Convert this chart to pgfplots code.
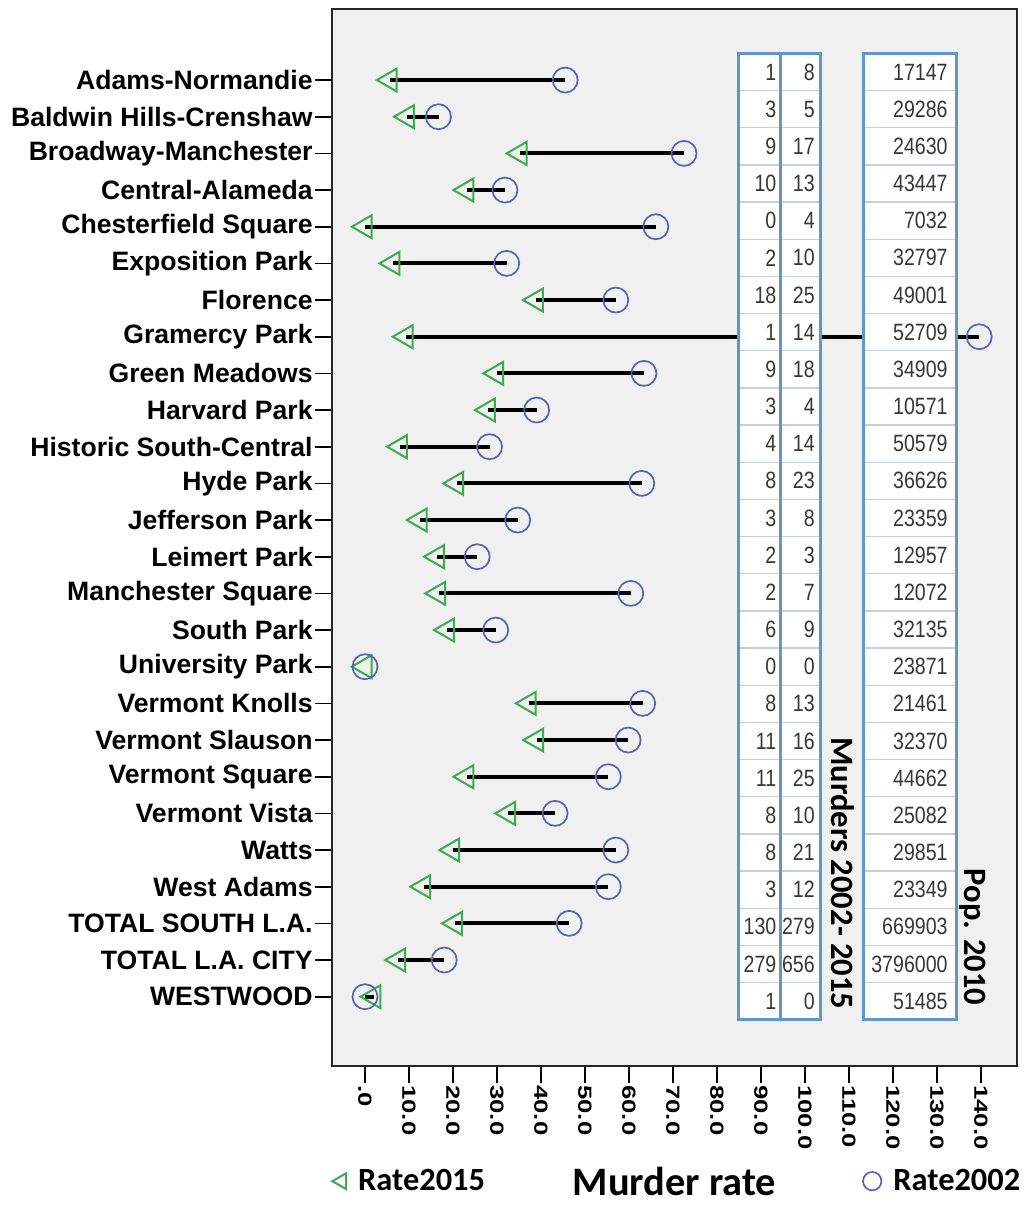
\documentclass[border=0pt]{standalone}
\usepackage{fontspec}
\setmainfont{Liberation Sans}
\newfontfamily\tickfont{Liberation Sans}[FakeStretch=1.35]
\newfontfamily\cellfont{Liberation Sans}[FakeStretch=0.83]
\newfontfamily\califont{Carlito}
\usepackage{pgfplots}
\pgfplotsset{compat=1.18}
\usepackage{pgfplotstable}
\usetikzlibrary{calc}

\definecolor{tri}{RGB}{60,170,80}
\definecolor{circ}{RGB}{85,100,175}
\definecolor{boxblue}{RGB}{95,150,205}
\definecolor{rowline}{RGB}{195,208,224}
\definecolor{cellgray}{RGB}{55,55,55}

% row, murders (first col, second col), population 2010, rate 2015, rate 2002
\pgfplotstableread{
row a   b   pop     r15  r02
1   1   8   17147   5.7  45.5
2   3   5   29286   9.6  16.7
3   9   17  24630   35.2 72.5
4   10  13  43447   23.1 31.8
5   0   4   7032    0.0  66.1
6   2   10  32797   6.3  32.2
7   18  25  49001   38.9 57.0
8   1   14  52709   9.3  139.6
9   9   18  34909   29.9 63.4
10  3   4   10571   28.0 39.0
11  4   14  50579   8.0  28.3
12  8   23  36626   20.8 62.9
13  3   8   23359   12.5 34.7
14  2   3   12957   16.4 25.5
15  2   7   12072   16.7 60.4
16  6   9   32135   18.7 29.7
17  0   0   23871   0.0  0.0
18  8   13  21461   37.3 63.1
19  11  16  32370   39.0 59.8
20  11  25  44662   23.1 55.3
21  8   10  25082   32.6 43.2
22  8   21  29851   19.9 57.0
23  3   12  23349   13.3 55.3
24  130 279 669903  20.5 46.4
25  279 656 3796000 7.6  18.0
26  1   0   51485   2.0  0.0
}\murders

\begin{document}
\begin{tikzpicture}
\begin{axis}[
    width=342.5pt, height=528.3pt, scale only axis,
    xmin=-7.5, xmax=148.2,
    ymin=-0.93, ymax=27.89, y dir=reverse,
    axis background/.style={fill=black!6},
    axis line style={black!85, line width=1.1pt},
    tick align=outside, tick pos=left,
    major tick length=8.5pt,
    tick style={black, line width=0.8pt},
    xtick={0,10,20,30,40,50,60,70,80,90,100,110,120,130,140},
    xticklabels={.0,10.0,20.0,30.0,40.0,50.0,60.0,70.0,80.0,90.0,100.0,110.0,120.0,130.0,140.0},
    xticklabel style={rotate=-90, anchor=west, inner sep=1pt,
        font=\tickfont\bfseries\fontsize{9.5}{10}\selectfont},
    ytick={1,...,26},
    yticklabels={Adams-Normandie,Baldwin Hills-Crenshaw,Broadway-Manchester,
        Central-Alameda,Chesterfield Square,Exposition Park,Florence,
        Gramercy Park,Green Meadows,Harvard Park,Historic South-Central,
        Hyde Park,Jefferson Park,Leimert Park,Manchester Square,South Park,
        University Park,Vermont Knolls,Vermont Slauson,Vermont Square,
        Vermont Vista,Watts,West Adams,TOTAL SOUTH L.A.,TOTAL L.A. CITY,WESTWOOD},
    yticklabel style={inner xsep=1pt, font=\bfseries\fontsize{13.3}{15}\selectfont},
    xlabel={Murder rate},
    xlabel style={at={(axis description cs:0.5,-0.109)}, anchor=center, inner sep=0pt,
        font=\califont\bfseries\fontsize{20.2}{22}\selectfont},
    legend style={at={(axis description cs:0,-0.109)}, anchor=west,
        draw=none, fill=none, inner sep=0pt,
        font=\califont\bfseries\fontsize{16.2}{18}\selectfont,
        /tikz/every odd column/.append style={column sep=4pt},
        /tikz/every even column/.append style={column sep=187pt}},
    legend columns=2,
    legend image post style={mark size=4.6pt},
]

% connecting lines 2015 -> 2002
\addplot[black, line width=2pt, unbounded coords=jump, forget plot] coordinates {
(5.7,1)(45.5,1) (nan,nan) (9.6,2)(16.7,2) (nan,nan) (35.2,3)(72.5,3) (nan,nan)
(23.1,4)(31.8,4) (nan,nan) (0.0,5)(66.1,5) (nan,nan) (6.3,6)(32.2,6) (nan,nan)
(38.9,7)(57.0,7) (nan,nan) (9.3,8)(139.6,8) (nan,nan) (29.9,9)(63.4,9) (nan,nan)
(28.0,10)(39.0,10) (nan,nan) (8.0,11)(28.3,11) (nan,nan) (20.8,12)(62.9,12) (nan,nan)
(12.5,13)(34.7,13) (nan,nan) (16.4,14)(25.5,14) (nan,nan) (16.7,15)(60.4,15) (nan,nan)
(18.7,16)(29.7,16) (nan,nan) (37.3,18)(63.1,18) (nan,nan) (39.0,19)(59.8,19) (nan,nan)
(23.1,20)(55.3,20) (nan,nan) (32.6,21)(43.2,21) (nan,nan) (19.9,22)(57.0,22) (nan,nan)
(13.3,23)(55.3,23) (nan,nan) (20.5,24)(46.4,24) (nan,nan) (7.6,25)(18.0,25) (nan,nan)
(2.0,26)(0.0,26)
};

% table boxes
\fill[white] (axis cs:84.9,0.272) rectangle (axis cs:103.6,26.63);
\fill[white] (axis cs:113.4,0.272) rectangle (axis cs:134.5,26.63);
\pgfplotsinvokeforeach{1,...,25}{
  \draw[rowline, line width=0.7pt] (axis cs:84.9,{0.272+1.0137*#1}) -- (axis cs:103.6,{0.272+1.0137*#1});
  \draw[rowline, line width=0.7pt] (axis cs:113.4,{0.272+1.0137*#1}) -- (axis cs:134.5,{0.272+1.0137*#1});
}
\draw[boxblue, line width=1.5pt] (axis cs:84.9,0.272) rectangle (axis cs:94.5,26.63);
\draw[boxblue, line width=1.5pt] (axis cs:94.5,0.272) rectangle (axis cs:103.6,26.63);
\draw[boxblue, line width=1.5pt] (axis cs:113.4,0.272) rectangle (axis cs:134.5,26.63);

\addplot[draw=none, mark=none, forget plot, nodes near coords, point meta=explicit symbolic,
    nodes near coords style={anchor=east, inner sep=0pt, text=cellgray,
        font=\cellfont\fontsize{11.8}{13}\selectfont}]
    table[x expr=93.57, y expr=-0.2349+1.0137*\thisrow{row}, meta=a] {\murders};
\addplot[draw=none, mark=none, forget plot, nodes near coords, point meta=explicit symbolic,
    nodes near coords style={anchor=east, inner sep=0pt, text=cellgray,
        font=\cellfont\fontsize{11.8}{13}\selectfont}]
    table[x expr=102.3, y expr=-0.2349+1.0137*\thisrow{row}, meta=b] {\murders};
\addplot[draw=none, mark=none, forget plot, nodes near coords, point meta=explicit symbolic,
    nodes near coords style={anchor=east, inner sep=0pt, text=cellgray,
        font=\cellfont\fontsize{11.8}{13}\selectfont}]
    table[x expr=132.5, y expr=-0.2349+1.0137*\thisrow{row}, meta=pop] {\murders};

\node[rotate=-90, anchor=east, inner sep=0pt, font=\califont\bfseries\fontsize{16.3}{19}\selectfont]
    at (axis cs:108.6,26.36) {Murders 2002- 2015};
\node[rotate=-90, anchor=east, inner sep=0pt, font=\califont\bfseries\fontsize{16.3}{19}\selectfont]
    at (axis cs:138.2,26.25) {Pop. 2010};

% markers
\addplot[only marks, color=tri, mark=triangle, mark size=6.6pt,
    mark options={rotate=90, line width=1pt}]
    table[x=r15, y=row] {\murders};
\addlegendentry{Rate2015}
\addplot[only marks, color=circ, mark=o, mark size=6.25pt,
    mark options={line width=0.85pt}]
    table[x=r02, y=row] {\murders};
\addlegendentry{Rate2002}
\end{axis}
\pgfresetboundingbox
\path ($(current axis.south west)+(-166pt,-71pt)$) rectangle ($(current axis.north east)+(3pt,4.65pt)$);
\end{tikzpicture}
\end{document}
